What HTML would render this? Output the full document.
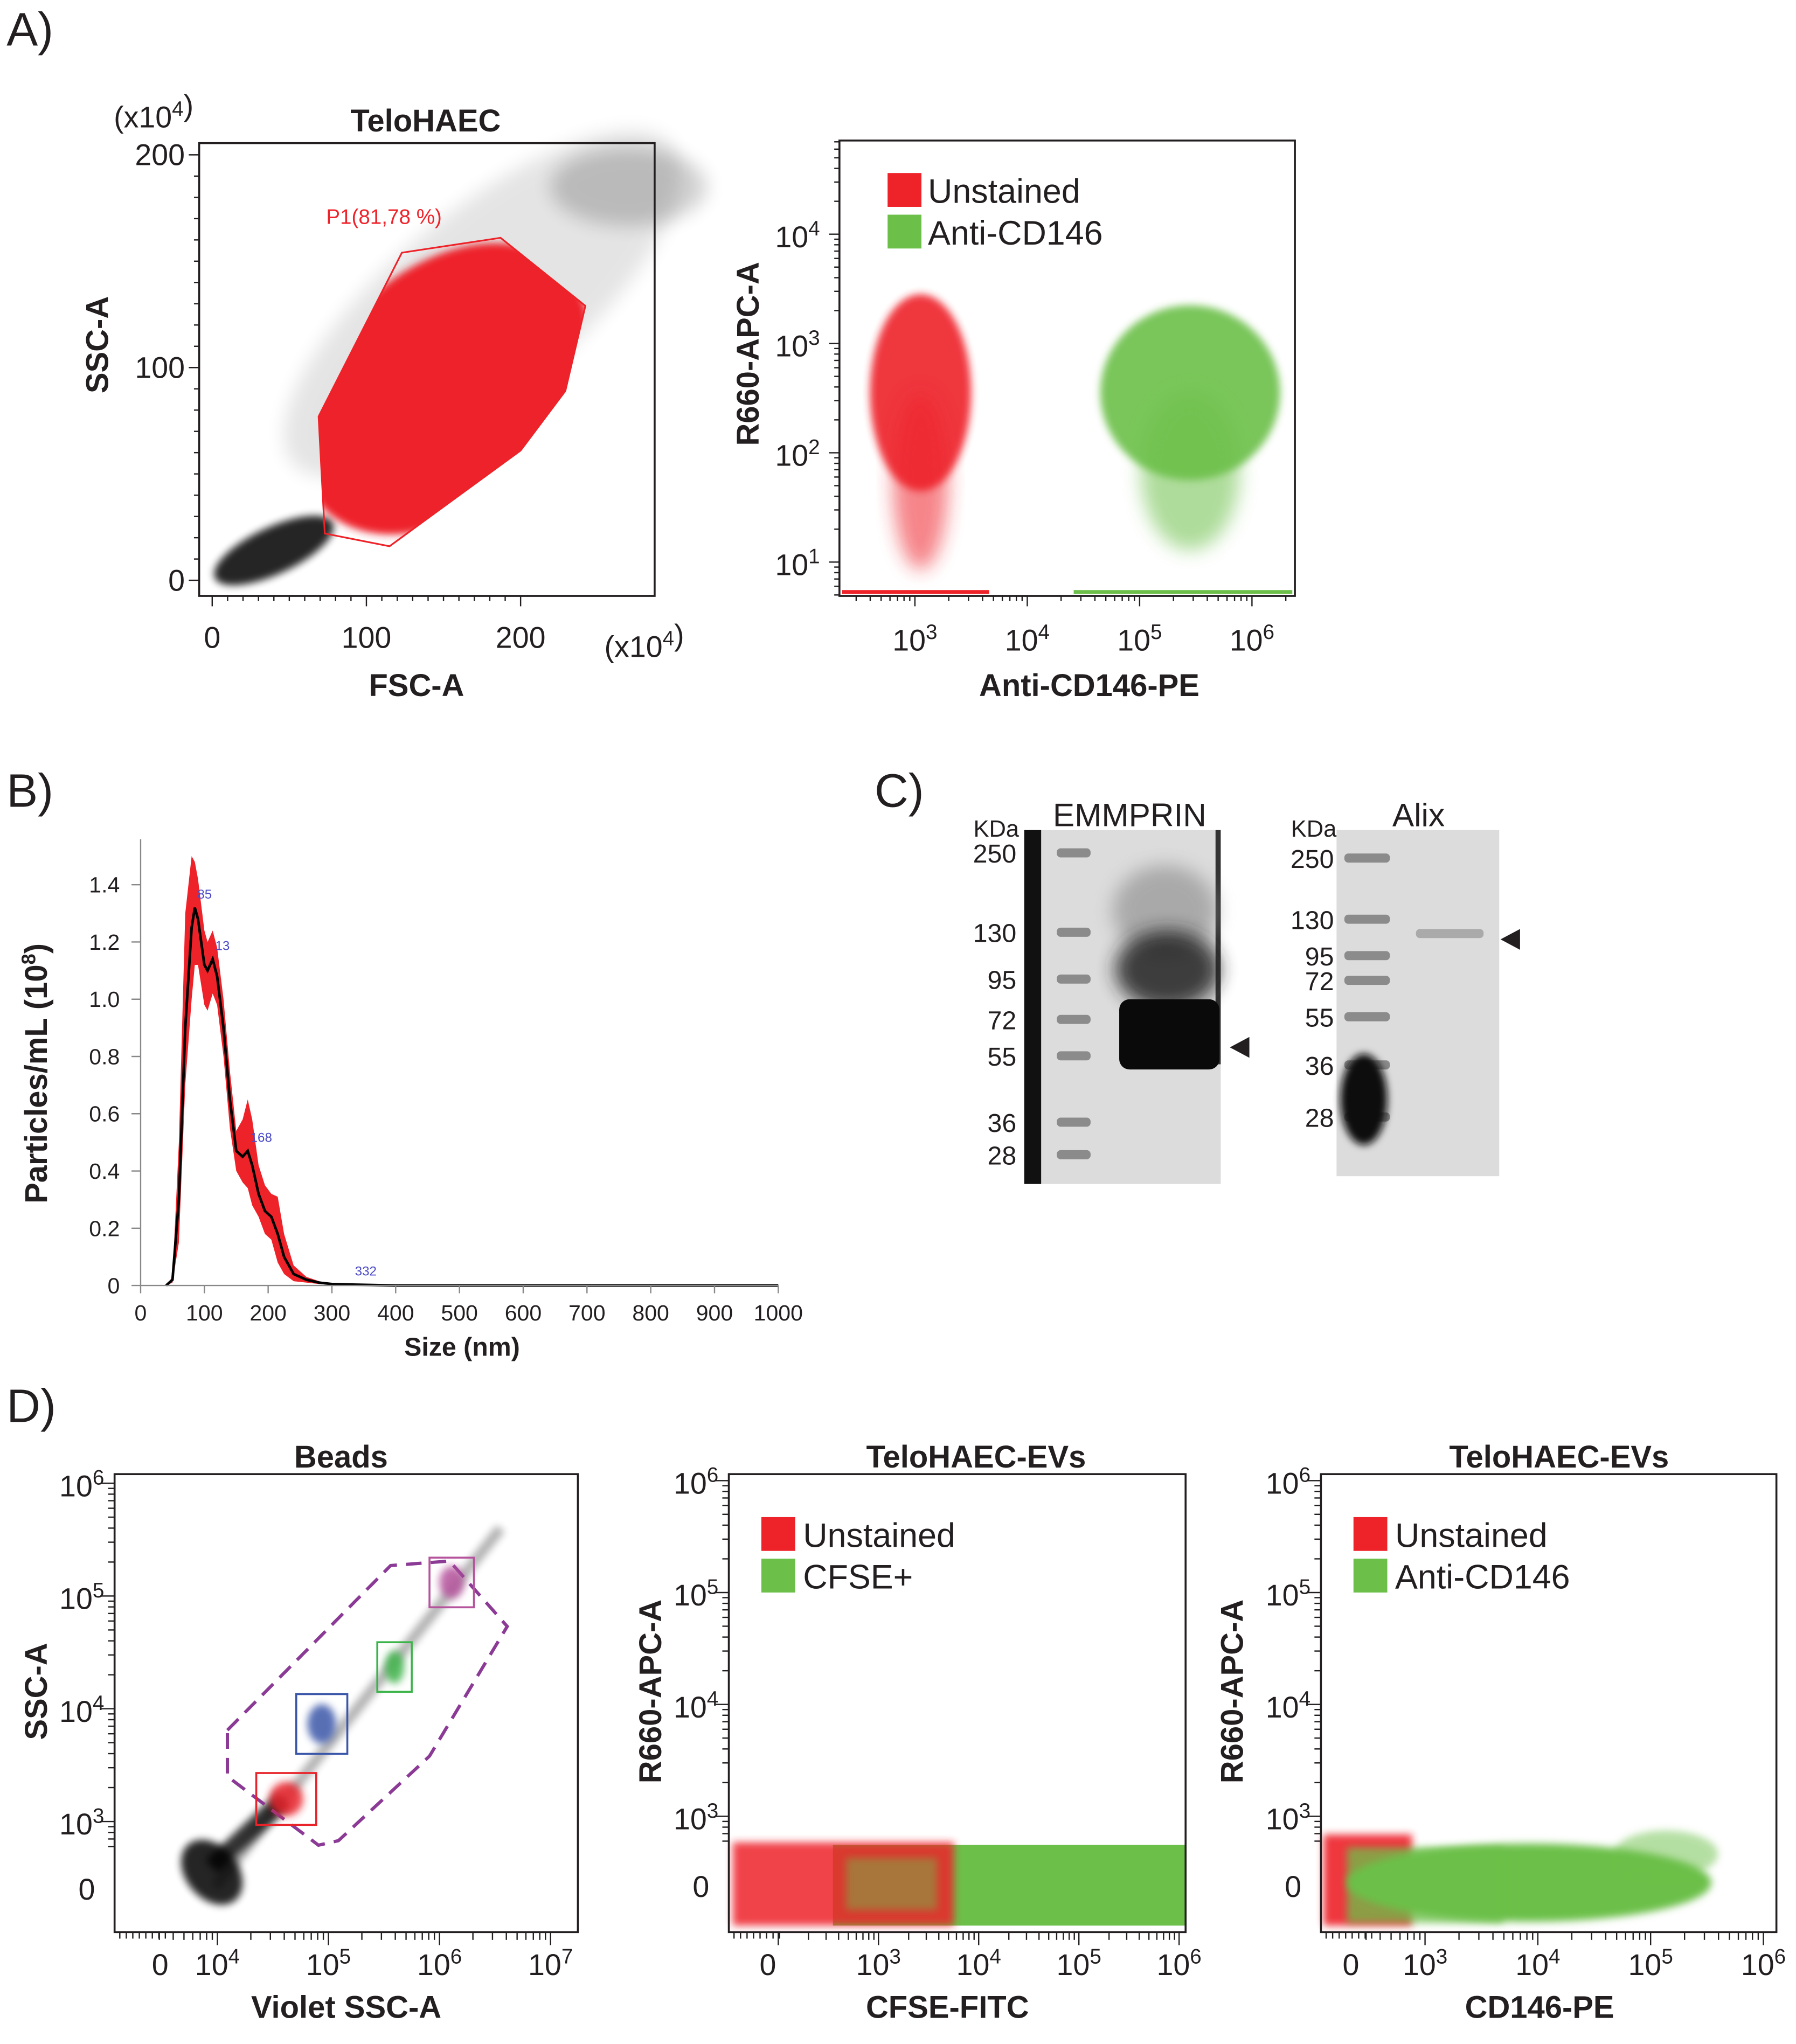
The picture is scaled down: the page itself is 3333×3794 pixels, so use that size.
<!DOCTYPE html>
<html><head><meta charset="utf-8"><style>
html,body{margin:0;padding:0;background:#fff}
svg{display:block}
text{font-family:"Liberation Sans",Arial,sans-serif;fill:#231f20}
.t{font-size:23px}
.b{font-weight:bold;font-size:24px}
.lg{font-size:26px}
.pl{font-size:36px}
</style></head><body>
<svg id="fig" width="3333" height="3794" viewBox="0 0 1380 1571" xmlns="http://www.w3.org/2000/svg">
<defs>
<filter id="bl" x="-30%" y="-30%" width="160%" height="160%"><feGaussianBlur stdDeviation="7"/></filter>
<filter id="bl2" x="-30%" y="-30%" width="160%" height="160%"><feGaussianBlur stdDeviation="3"/></filter>
</defs>
<g id="root"></g>
</svg>
<script>
// ---------- data ----------
const aLeftGate = [[123,154],[187,161],[242,129],[229,89],[200,61],[115,16],[73,22],[69,77]];
const aLeftRedCenter = [150,90];
const aLeftRedSpread = [110,55];
const aLeftTicksX = [0,100,200];
const aLeftTicksY = [0,100,200];
const aRightTicksX = [3,4,5,6];
const aRightTicksY = [1,2,3,4];
const aRightRed = [3.05,2.55,0.45,0.9];
const aRightGreen = [5.45,2.55,0.8,0.8];
const ntaSize = [40,50,60,70,80,85,90,100,105,113,120,130,140,150,160,168,175,185,195,205,215,225,240,260,280,300,332,400,1000];
const ntaMean = [0,0.02,0.3,0.9,1.25,1.32,1.28,1.12,1.1,1.14,1.08,0.9,0.65,0.47,0.45,0.47,0.42,0.32,0.26,0.24,0.18,0.1,0.04,0.02,0.01,0.005,0.003,0,0];
const ntaUpper = [0,0.03,0.5,1.3,1.5,1.48,1.42,1.24,1.2,1.24,1.18,1.0,0.75,0.54,0.58,0.65,0.58,0.42,0.35,0.32,0.31,0.18,0.07,0.03,0.015,0.006,0.004,0,0];
const ntaLower = [0,0.01,0.15,0.7,1.0,1.12,1.12,0.98,0.96,1.02,0.98,0.8,0.55,0.4,0.36,0.34,0.28,0.24,0.18,0.16,0.08,0.04,0.015,0.01,0.005,0.003,0.002,0,0];
const ntaTicksX = [0,100,200,300,400,500,600,700,800,900,1000];
const ntaTicksY = [0,0.2,0.4,0.6,0.8,1.0,1.2,1.4];
const ntaPeaks = [[85,'85'],[113,'13'],[168,'168'],[332,'332']];
const emmLadder = [250,130,95,72,55,36,28];
const alixLadder = [250,130,95,72,55,36,28];
const dBeadsGate = [[4.09,3.81],[5.56,5.27],[6.09,5.31],[6.61,4.73],[5.91,3.58],[5.09,2.83],[4.91,2.79],[4.09,3.4]];
const dBeadBoxes = [[5.91,6.31,4.9,5.34,'#b5539c'],[5.44,5.75,4.15,4.59,'#3cb44a'],[4.71,5.17,3.6,4.13,'#3a56a8'],[4.35,4.89,2.97,3.43,'#e8232a']];
const dBeadLine = [[3.98,2.42],[6.55,5.6]];
</script>
<script>
const NS='http://www.w3.org/2000/svg';
const root=document.getElementById('root');
function el(tag,attrs,parent){const e=document.createElementNS(NS,tag);for(const k in attrs)e.setAttribute(k,attrs[k]);(parent||root).appendChild(e);return e;}
function txt(x,y,s,cls,anchor,parent){const t=el('text',{x:x,y:y,'class':cls||'t','text-anchor':anchor||'middle'},parent);t.textContent=s;return t;}
function sup(x,y,base,exp,cls,anchor,parent){const t=el('text',{x:x,y:y,'class':cls||'t','text-anchor':anchor||'middle'},parent);t.appendChild(document.createTextNode(base));const s=document.createElementNS(NS,'tspan');s.setAttribute('dy','-9');s.style.fontSize='16px';s.textContent=exp;t.appendChild(s);return t;}
function lin(d0,d1,p0,p1){return v=>p0+(v-d0)*(p1-p0)/(d1-d0);}

[['A)',5,35],['B)',5,620],['C)',672,620],['D)',5,1093]].forEach(p=>{const t=txt(p[1],p[2],p[0],'pl','start');});

// ===== Panel A left =====
{const g=el('g',{});
const X=lin(0,200,163,400),Y=lin(0,200,446,119);
el('ellipse',{cx:X(175),cy:Y(130),rx:190,ry:70,transform:`rotate(-40 ${X(175)} ${Y(130)})`,fill:'#000',opacity:0.1,filter:'url(#bl)'},g);
el('ellipse',{cx:X(270),cy:Y(185),rx:60,ry:30,fill:'#000',opacity:0.18,filter:'url(#bl)'},g);
el('ellipse',{cx:X(40),cy:Y(14),rx:50,ry:18,transform:`rotate(-25 ${X(40)} ${Y(14)})`,fill:'#000',opacity:0.85,filter:'url(#bl2)'},g);
const clip=el('clipPath',{id:'gateClip'},g);
el('polygon',{points:aLeftGate.map(p=>X(p[0])+','+Y(p[1])).join(' ')},clip);
const gc=el('g',{'clip-path':'url(#gateClip)'},g);
const rc=el('ellipse',{cx:X(aLeftRedCenter[0]),cy:Y(aLeftRedCenter[1]),rx:X(aLeftRedSpread[0])-X(0),ry:Y(0)-Y(aLeftRedSpread[1]),transform:`rotate(-45 ${X(aLeftRedCenter[0])} ${Y(aLeftRedCenter[1])})`,fill:'#ee2229',filter:'url(#bl2)'},gc);

const gp=el('polygon',{points:aLeftGate.map(p=>X(p[0])+','+Y(p[1])).join(' '),fill:'none',stroke:'#ee2229','stroke-width':1.3},g);

const gl=txt(295,172,'P1(81,78 %)','t','middle',g);gl.style.fontSize='16px';gl.style.fill='#ee2229';

el('rect',{x:153,y:110,width:350,height:348,fill:'none',stroke:'#231f20','stroke-width':1.5},g);
for(let v=0;v<=200;v+=10){el('line',{x1:153,x2:v%100==0?145:149,y1:Y(v),y2:Y(v),stroke:'#231f20'},g);el('line',{y1:458,y2:v%100==0?466:462,x1:X(v),x2:X(v),stroke:'#231f20'},g);}
aLeftTicksY.forEach(v=>{const t=txt(142,Y(v)+8,String(v),'t','end',g);});
aLeftTicksX.forEach(v=>{const t=txt(X(v),498,String(v),'t','middle',g);});
sup(118,98,'(x10','4',"t",'middle',g).appendChild(document.createTextNode(')'));
sup(495,505,'(x10','4',"t",'middle',g).appendChild(document.createTextNode(')'));
const tt=txt(327,101,'TeloHAEC','b','middle',g);
const xl=txt(320,535,'FSC-A','b','middle',g);
const yl=txt(0,0,'SSC-A','b','middle',g);yl.setAttribute('transform','translate(83,265) rotate(-90)');
}

// ===== Panel A right =====
{const g=el('g',{});
const X=lin(3,6,703,962),Y=lin(1,4,432,180);
function cloud(c,col,name){const e=el('ellipse',{cx:X(c[0]),cy:Y(c[1]),rx:X(c[2])-X(0),ry:Y(0)-Y(c[3]),fill:col,opacity:0.9,filter:'url(#bl2)'},g);
el('ellipse',{cx:X(c[0]),cy:Y(c[1]-c[3]*0.9),rx:(X(c[2])-X(0))*0.55,ry:(Y(0)-Y(c[3]))*0.9,fill:col,opacity:0.55,filter:'url(#bl)'},g);}
cloud(aRightRed,'#ee2229','unstained-population');
cloud(aRightGreen,'#6cc04a','anti-cd146-population');
el('line',{x1:647,x2:760,y1:455,y2:455,stroke:'#ee2229','stroke-width':3},g);
el('line',{x1:825,x2:993,y1:455,y2:455,stroke:'#6cc04a','stroke-width':3},g);
el('rect',{x:645,y:108,width:350,height:350,fill:'none',stroke:'#231f20','stroke-width':1.5},g);
for(let d=0;d<6;d++)for(let m=1;m<10;m++){const lv=d+Math.log10(m);const yy=Y(lv);if(yy>108&&yy<458)el('line',{x1:645,x2:m==1?637:641,y1:yy,y2:yy,stroke:'#231f20'},g);}
for(let d=2;d<7;d++)for(let m=1;m<10;m++){const xx=X(d+Math.log10(m));if(xx>645&&xx<995)el('line',{y1:458,y2:m==1?466:462,x1:xx,x2:xx,stroke:'#231f20'},g);}
aRightTicksY.forEach(v=>{const t=sup(630,Y(v)+10,'10',String(v),'t','end',g);});
aRightTicksX.forEach(v=>{const t=sup(X(v),500,'10',String(v),'t','middle',g);});
const l1=el('rect',{x:682,y:133,width:26,height:26,fill:'#ee2229'},g);
const l2=el('rect',{x:682,y:165,width:26,height:26,fill:'#6cc04a'},g);
const lt1=txt(713,156,'Unstained','lg','start',g);
const lt2=txt(713,188,'Anti-CD146','lg','start',g);
const xl=txt(837,535,'Anti-CD146-PE','b','middle',g);
const yl=txt(0,0,'R660-APC-A','b','middle',g);yl.setAttribute('transform','translate(583,272) rotate(-90)');
}

// ===== Panel B =====
{const g=el('g',{});
const X=lin(0,1000,108,598),Y=lin(0,1.4,988,680);
let band='M'+ntaSize.map((s,i)=>X(s)+','+Y(ntaUpper[i])).join(' L');
band+=' L'+ntaSize.map((s,i)=>X(s)+','+Y(ntaLower[i])).reverse().join(' L')+' Z';
const b=el('path',{d:band,fill:'#ee2229'},g);
const ln=el('path',{d:'M'+ntaSize.map((s,i)=>X(s)+','+Y(ntaMean[i])).join(' L'),fill:'none',stroke:'#000','stroke-width':2},g);

el('line',{x1:108,x2:108,y1:645,y2:988,stroke:'#888','stroke-width':1},g);
el('line',{x1:108,x2:598,y1:988,y2:988,stroke:'#888','stroke-width':1},g);
ntaTicksY.forEach(v=>{el('line',{x1:101,x2:108,y1:Y(v),y2:Y(v),stroke:'#888'},g);const t=txt(92,Y(v)+6,v===0?'0':v.toFixed(1),'t','end',g);t.style.fontSize='17px';});
ntaTicksX.forEach(v=>{el('line',{y1:988,y2:994,x1:X(v),x2:X(v),stroke:'#888'},g);const t=txt(X(v),1015,String(v),'t','middle',g);t.style.fontSize='17px';});
ntaPeaks.forEach(p=>{const i=ntaSize.indexOf(p[0]);const t=txt(X(p[0])+2,Y(ntaMean[i])-7,p[1],'t','start',g);t.style.fontSize='10px';t.style.fill='#4a4ac8';});
const xl=txt(355,1042,'Size (nm)','b','middle',g);xl.style.fontSize='20px';
const yl=el('text',{'class':'b','text-anchor':'middle',transform:'translate(36,825) rotate(-90)'},g);yl.textContent='Particles/mL (10';const s=document.createElementNS(NS,'tspan');s.setAttribute('dy','-9');s.style.fontSize='15px';s.textContent='8';yl.appendChild(s);const s2=document.createElementNS(NS,'tspan');s2.setAttribute('dy','9');s2.textContent=')';yl.appendChild(s2);

}

// ===== Panel C =====
function blot(x0,y0,w,h,ladderY,ladderX,ladderW,labels,labelX,title,titleX,name){
const g=el('g',{});
const r=el('rect',{x:x0,y:y0,width:w,height:h,fill:'#dcdcdc'},g);
labels.forEach((v,i)=>{el('rect',{x:ladderX,y:ladderY[i]-3,width:ladderW,height:7,rx:3,fill:'#777',opacity:0.8},g);
const t=txt(labelX,ladderY[i]+8,String(v),'t','end',g);t.style.fontSize='20px';});
const k=txt(labelX+2,643,'KDa','t','end',g);k.style.fontSize='18px';
const tt=txt(titleX,635,title,'t','middle',g);tt.style.fontSize='25px';
return g;}
{const g=blot(787,638,151,272,[655,716,752,783,811,862,887],812,26,emmLadder,781,'EMMPRIN',868,'panel-c-emmprin-blot');
el('rect',{x:787,y:638,width:13,height:272,fill:'#111'},g);
el('rect',{x:934,y:638,width:4,height:180,fill:'#333'},g);
el('ellipse',{cx:895,cy:700,rx:40,ry:35,fill:'#888',opacity:0.6,filter:'url(#bl)'},g);
el('ellipse',{cx:897,cy:745,rx:40,ry:30,fill:'#222',opacity:0.85,filter:'url(#bl)'},g);
const bd=el('rect',{x:860,y:768,width:77,height:54,rx:8,fill:'#0a0a0a'},g);
const ar=el('polygon',{points:'945,805 960,797 960,813',fill:'#231f20'},g);}
{const g=blot(1027,638,125,266,[659,706,734,753,781,818,858],1033,35,alixLadder,1025,'Alix',1090,'panel-c-alix-blot');
el('ellipse',{cx:1048,cy:845,rx:18,ry:35,fill:'#111',filter:'url(#bl2)'},g);
const bd=el('rect',{x:1088,y:714,width:52,height:7,rx:3,fill:'#aaa'},g);
const ar=el('polygon',{points:'1153,722 1168,714 1168,730',fill:'#231f20'},g);}

// ===== Panel D =====
function dAxes(g,x0,w,X,Y,xTicks,yTicks){
el('rect',{x:x0,y:1133,width:w,height:352,fill:'none',stroke:'#231f20','stroke-width':1.5},g);
for(let d=2;d<8;d++)for(let m=1;m<10;m++){const xx=X(d+Math.log10(m));if(xx>x0+30&&xx<x0+w)el('line',{y1:1485,y2:m==1?1495:1491,x1:xx,x2:xx,stroke:'#231f20'},g);}
for(let d=2;d<7;d++)for(let m=1;m<10;m++){const yy=Y(d+Math.log10(m));if(yy>1133&&yy<1420)el('line',{x1:x0,x2:m==1?x0-10:x0-5,y1:yy,y2:yy,stroke:'#231f20'},g);}
for(let xx=x0+4;xx<x0+40;xx+=5)el('line',{y1:1485,y2:1490,x1:xx,x2:xx,stroke:'#231f20'},g);
yTicks.forEach(p=>{const t=p[1]==='0'?txt(x0-15,p[0]+8,'0','t','end',g):sup(x0-8,p[0]+10,'10',p[1],'t','end',g);});
xTicks.forEach(p=>{const t=p[1]==='0'?txt(p[0],1518,'0','t','middle',g):sup(p[0],1518,'10',p[1],'t','middle',g);});
}
function labels(g,title,tx,xlab,xx,ylab,yx){
const t=txt(tx,1128,title,'b','middle',g);
const x=txt(xx,1551,xlab,'b','middle',g);
const y=txt(0,0,ylab,'b','middle',g);y.setAttribute('transform',`translate(${yx},1300) rotate(-90)`);}
function legend(g,x,a,b){const r1=el('rect',{x:x,y:1166,width:26,height:26,fill:'#ee2229'},g);
const r2=el('rect',{x:x,y:1198,width:26,height:26,fill:'#6cc04a'},g);
const t1=txt(x+32,1189,a,'lg','start',g);
const t2=txt(x+32,1221,b,'lg','start',g);}

{const g=el('g',{});
const X=lin(4,7,167,423),Y=lin(3,6,1400,1140);
el('line',{x1:X(dBeadLine[0][0]),y1:Y(dBeadLine[0][1]),x2:X(dBeadLine[1][0]),y2:Y(dBeadLine[1][1]),stroke:'#000','stroke-width':8,opacity:0.3,filter:'url(#bl2)'},g);
el('ellipse',{cx:X(3.95),cy:Y(2.55),rx:20,ry:28,transform:`rotate(-40 ${X(3.95)} ${Y(2.55)})`,fill:'#000',opacity:0.85,filter:'url(#bl2)'},g);
el('line',{x1:X(3.95),y1:Y(2.6),x2:X(4.6),y2:Y(3.2),stroke:'#000','stroke-width':14,opacity:0.8,filter:'url(#bl2)'},g);
const gp=el('polygon',{points:dBeadsGate.map(p=>X(p[0])+','+Y(p[1])).join(' '),fill:'none',stroke:'#8b3a96','stroke-width':2.5,'stroke-dasharray':'12,7'},g);

dBeadBoxes.forEach(b=>{const cx=(X(b[0])+X(b[1]))/2,cy=(Y(b[2])+Y(b[3]))/2;
el('ellipse',{cx:cx,cy:cy,rx:(X(b[1])-X(b[0]))*0.28,ry:(Y(b[2])-Y(b[3]))*0.33,fill:b[4],opacity:0.85,filter:'url(#bl2)'},g);
const r=el('rect',{x:X(b[0]),y:Y(b[3]),width:X(b[1])-X(b[0]),height:Y(b[2])-Y(b[3]),fill:'none',stroke:b[4],'stroke-width':1.5},g);
});
dAxes(g,88,356,X,Y,[[123,'0'],[X(4),'4'],[X(5),'5'],[X(6),'6'],[X(7),'7']],[[1452,'0'],[Y(3),'3'],[Y(4),'4'],[Y(5),'5'],[Y(6),'6']]);
labels(g,'Beads',262,'Violet SSC-A',266,'SSC-A',36);}

{const g=el('g',{});
const X=lin(3,6,675,906),Y=lin(3,6,1396,1138);
const gr=el('rect',{x:640,y:1418,width:271,height:62,fill:'#6cc04a'},g);
const rd=el('rect',{x:563,y:1416,width:170,height:64,fill:'#ee2229',opacity:0.85,filter:'url(#bl2)'},g);
el('rect',{x:650,y:1428,width:70,height:40,fill:'#6cc04a',opacity:0.45,filter:'url(#bl2)'},g);
dAxes(g,560,351,X,Y,[[590,'0'],[X(3),'3'],[X(4),'4'],[X(5),'5'],[X(6),'6']],[[1450,'0'],[Y(3),'3'],[Y(4),'4'],[Y(5),'5'],[Y(6),'6']]);
legend(g,585,'Unstained','CFSE+');labels(g,'TeloHAEC-EVs',750,'CFSE-FITC',728,'R660-APC-A',508);}

{const g=el('g',{});
const X=lin(3,6,1095,1355),Y=lin(3,6,1396,1138);
const rd=el('rect',{x:1017,y:1410,width:68,height:70,fill:'#ee2229',opacity:0.9,filter:'url(#bl2)'},g);
const gr=el('ellipse',{cx:1175,cy:1447,rx:140,ry:30,fill:'#6cc04a',filter:'url(#bl2)'},g);
el('rect',{x:1035,y:1420,width:120,height:58,fill:'#6cc04a',opacity:0.75,filter:'url(#bl2)'},g);
el('ellipse',{cx:1280,cy:1425,rx:40,ry:18,fill:'#6cc04a',opacity:0.5,filter:'url(#bl2)'},g);
dAxes(g,1015,350,X,Y,[[1038,'0'],[X(3),'3'],[X(4),'4'],[X(5),'5'],[X(6),'6']],[[1450,'0'],[Y(3),'3'],[Y(4),'4'],[Y(5),'5'],[Y(6),'6']]);
legend(g,1040,'Unstained','Anti-CD146');labels(g,'TeloHAEC-EVs',1198,'CD146-PE',1183,'R660-APC-A',955);}
</script>
</body></html>
